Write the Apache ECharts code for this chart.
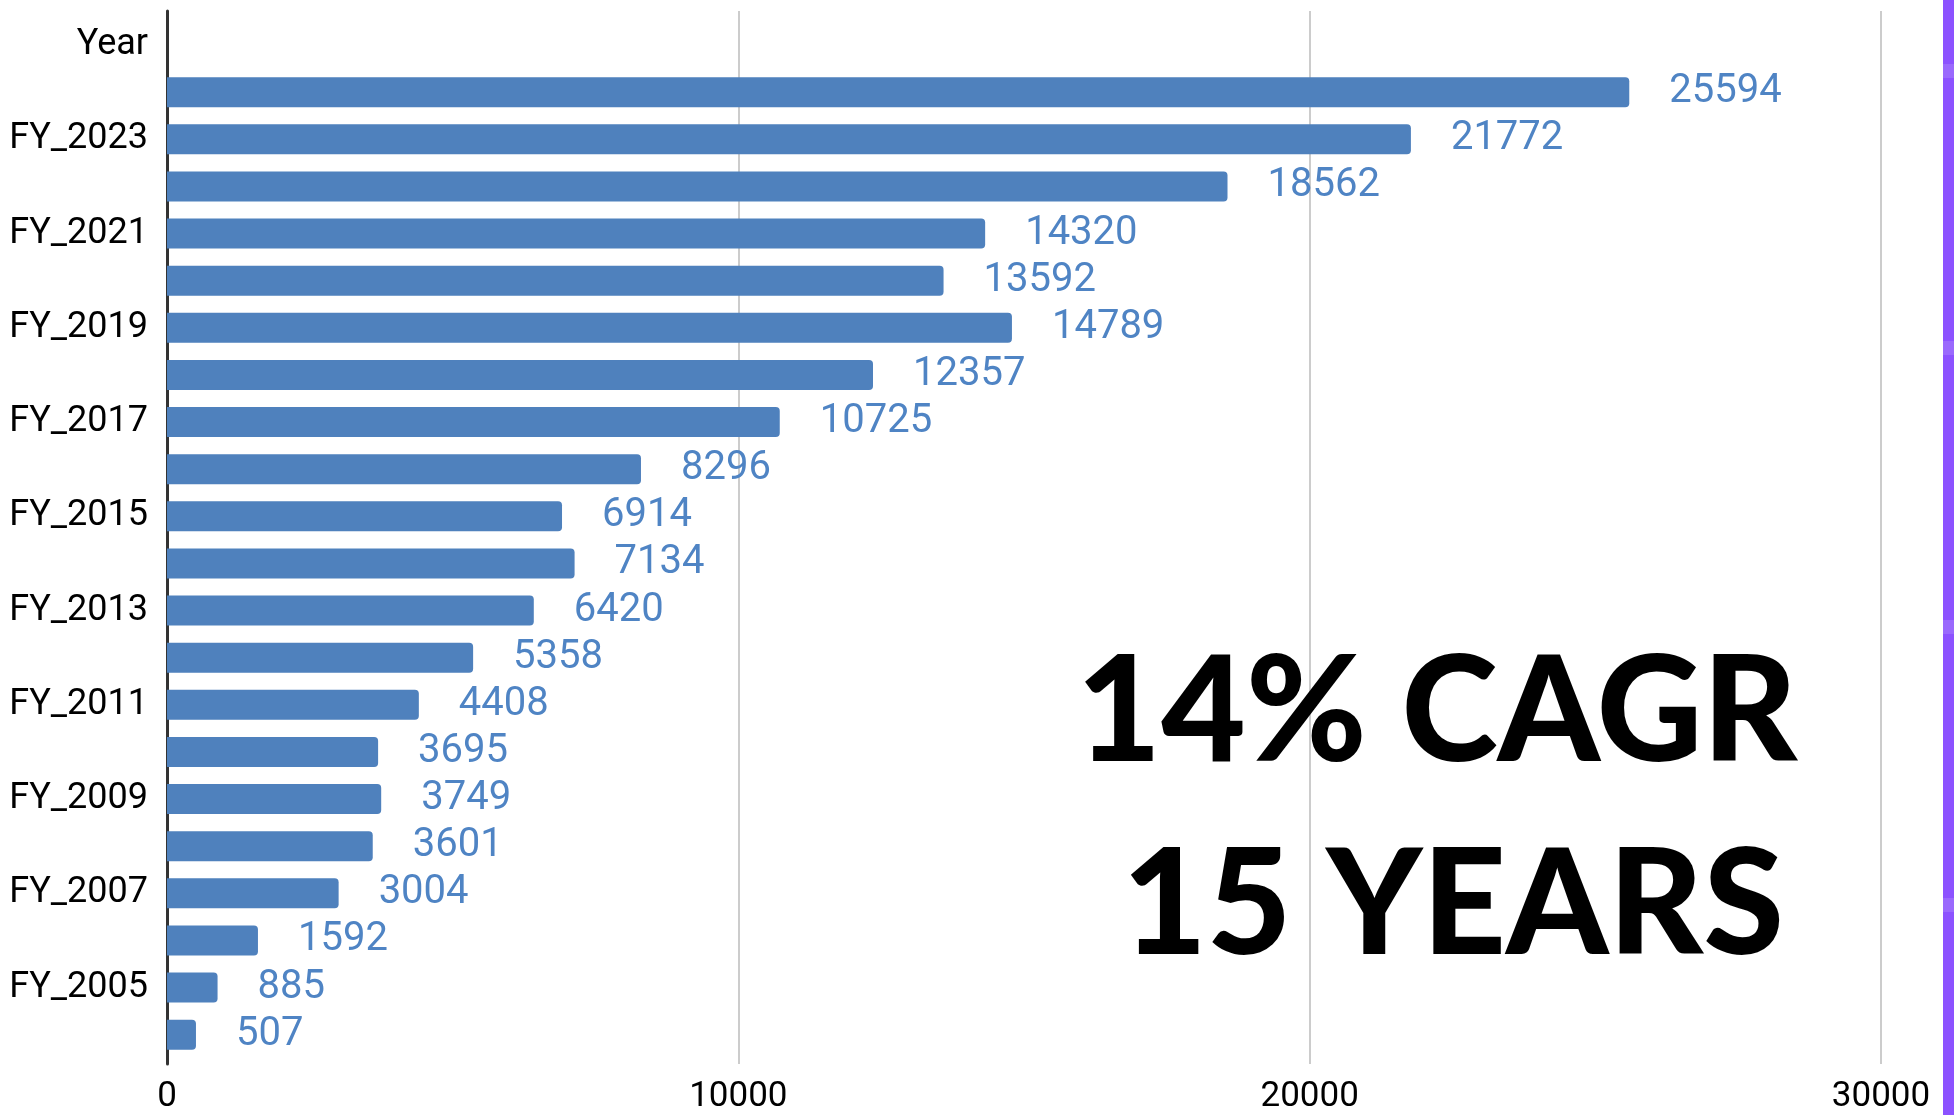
<!DOCTYPE html>
<html>
<head>
<meta charset="utf-8">
<title>Revenue by fiscal year</title>
<script src="https://cdn.jsdelivr.net/npm/echarts@6/dist/echarts.min.js"></script>
<style>
  html, body { margin: 0; padding: 0; background: #ffffff; }
  #chart { width: 1954px; height: 1115px; }
</style>
</head>
<body>
<div id="chart"></div>
<script>
// Category rows, top to bottom ("Year" is the header row and carries no bar)
const years = [
  'Year', 'FY_2024', 'FY_2023', 'FY_2022', 'FY_2021', 'FY_2020', 'FY_2019',
  'FY_2018', 'FY_2017', 'FY_2016', 'FY_2015', 'FY_2014', 'FY_2013',
  'FY_2012', 'FY_2011', 'FY_2010', 'FY_2009', 'FY_2008', 'FY_2007',
  'FY_2006', 'FY_2005', 'FY_2004'
];
// Yearly values, same order as the rows above
const values = [
  null, 25594, 21772, 18562, 14320, 13592, 14789,
  12357, 10725, 8296, 6914, 7134, 6420,
  5358, 4408, 3695, 3749, 3601, 3004,
  1592, 885, 507
];
// Value axis ticks
const xTickValues = [0, 10000, 20000, 30000];
const xInterval = 10000;
const xMax = 30000;
// Headline
const headline = ['14% CAGR', '15 YEARS'];

const chart = echarts.init(document.getElementById('chart'), null, { renderer: 'canvas' });

const LEFT = 167, RIGHT = 73;
const BAND_TOP = 21.5, BAND = 47.125;
const bandBottom = 1115 - BAND_TOP - BAND * years.length;

const axisFont = 'Roboto';
const headFont = '900 146px Lato';

// light notches on the purple edge strip
const stripNotches = [64, 341, 620, 898].map(y => ({
  type: 'rect', left: 1943, top: y, z: 11,
  shape: { width: 11, height: 14 },
  style: { fill: '#9a69fd' }
}));

chart.setOption({
  animation: false,
  backgroundColor: '#ffffff',
  grid: [
    // frame grid: gridlines, value ticks and the vertical axis line
    { left: LEFT, right: RIGHT, top: 11, bottom: 50, containLabel: false },
    // bar grid: category bands
    { left: LEFT, right: RIGHT, top: BAND_TOP, bottom: bandBottom, containLabel: false }
  ],
  xAxis: [
    {
      type: 'value', gridIndex: 0, min: 0, max: xMax, interval: xInterval,
      axisLine: { show: false },
      axisTick: { show: false },
      splitLine: { show: true, lineStyle: { color: '#cccccc', width: 2 } },
      axisLabel: {
        show: true, margin: 16, color: '#000000',
        fontFamily: axisFont, fontSize: 35,
        formatter: v => (xTickValues.indexOf(v) >= 0 ? String(v) : '')
      }
    },
    {
      type: 'value', gridIndex: 1, min: 0, max: xMax, interval: xInterval,
      show: false
    }
  ],
  yAxis: [
    {
      type: 'value', gridIndex: 0, min: 0, max: 1,
      axisLine: { show: true, lineStyle: { color: '#333333', width: 3 } },
      axisTick: { show: false },
      axisLabel: { show: false },
      splitLine: { show: false }
    },
    {
      type: 'category', gridIndex: 1, data: years, inverse: true,
      axisLine: { show: false },
      axisTick: { show: false },
      splitLine: { show: false },
      axisLabel: {
        interval: 1, margin: 19, color: '#000000',
        fontFamily: axisFont, fontSize: 36,
        padding: [0, 0, 10, 0]
      }
    }
  ],
  series: [
    {
      type: 'bar',
      xAxisIndex: 1, yAxisIndex: 1,
      data: values,
      barWidth: 30,
      itemStyle: { color: '#4f81bd', borderRadius: [0, 4, 4, 0] },
      label: {
        show: true, position: 'right', distance: 40,
        color: '#4f84c4', fontFamily: axisFont, fontSize: 40
      }
    }
  ],
  graphic: [
    {
      type: 'text', x: 1437, y: 714, z: 20,
      style: {
        text: headline[0], fill: '#000000', font: headFont,
        textAlign: 'center', textVerticalAlign: 'middle'
      }
    },
    {
      type: 'text', x: 1453, y: 907, z: 20,
      style: {
        text: headline[1], fill: '#000000', font: headFont,
        textAlign: 'center', textVerticalAlign: 'middle'
      }
    },
    {
      type: 'rect', left: 1943, top: 0, z: 10,
      shape: { width: 11, height: 1115 },
      style: { fill: '#8c52ff' }
    }
  ].concat(stripNotches)
});
</script>
</body>
</html>
